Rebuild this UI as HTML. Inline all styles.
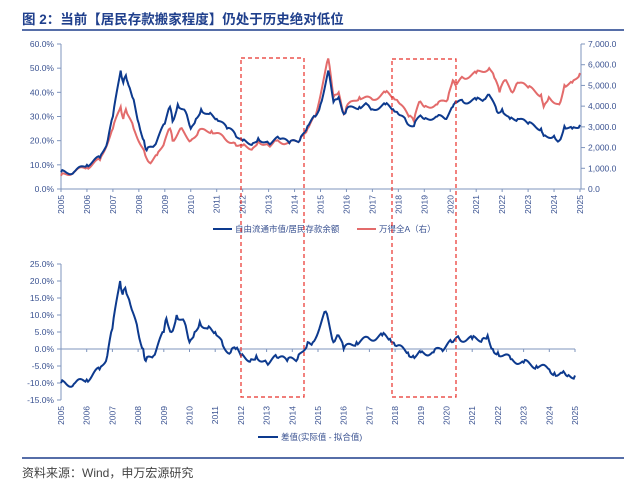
<!DOCTYPE html>
<html><head><meta charset="utf-8"><style>
body{margin:0;background:#fff;width:638px;height:485px;overflow:hidden}
svg{display:block;font-family:"Liberation Sans","Noto Sans CJK SC",sans-serif}
</style></head><body>
<svg id="s" width="638" height="485" xmlns="http://www.w3.org/2000/svg">
<text x="22" y="24" font-size="13.5" font-weight="bold" fill="#1f3f8c">图 2：当前【居民存款搬家程度】仍处于历史绝对低位</text>
<line x1="22" y1="30" x2="624" y2="30" stroke="#1f3f8c" stroke-width="1.5"/>
<line x1="22" y1="458" x2="624" y2="458" stroke="#1f3f8c" stroke-width="1.5"/>
<text x="22" y="477" font-size="12" fill="#444">资料来源：Wind，申万宏源研究</text>
<g id="g"></g>
</svg>
<script>
const g=document.getElementById('g');let h='';
const ax='#7f95bd',tc='#3a5291';
const X1=y=>61+(y-2005)*25.95, Y1=v=>189-v*145/60;
h+=`<line x1="61" y1="44" x2="61" y2="189" stroke="${ax}"/><line x1="581" y1="44" x2="581" y2="189" stroke="${ax}"/><line x1="61" y1="189" x2="581" y2="189" stroke="${ax}"/>`;
for(let i=0;i<=6;i++){let y=Y1(i*10);h+=`<line x1="57" y1="${y}" x2="61" y2="${y}" stroke="${ax}"/><text x="54" y="${y+3}" font-size="8.5" fill="${tc}" text-anchor="end">${i*10}.0%</text>`}
for(let i=0;i<=7;i++){let y=189-i*145/7;h+=`<line x1="581" y1="${y}" x2="585" y2="${y}" stroke="${ax}"/><text x="588" y="${y+3}" font-size="8.5" fill="${tc}">${i?i+',000.0':'0.0'}</text>`}
for(let i=0;i<=20;i++){let x=X1(2005+i);h+=`<line x1="${x}" y1="189" x2="${x}" y2="192" stroke="${ax}"/><text transform="translate(${x+3},195) rotate(-90)" font-size="8.5" fill="${tc}" text-anchor="end">${2005+i}</text>`}
const blue=[[2005,7],[2005.5,7],[2006,10],[2006.5,13],[2006.8,20],[2007,30],[2007.3,49],[2007.4,44],[2007.5,47],[2007.6,43],[2007.8,37],[2008,27],[2008.2,20],[2008.3,16],[2008.6,18],[2009,27],[2009.2,34],[2009.3,28],[2009.5,35],[2009.8,32],[2010,25],[2010.2,29],[2010.4,33],[2010.7,31],[2011,29],[2011.4,25],[2011.7,23],[2012,20],[2012.4,19],[2012.6,21],[2013,19],[2013.4,21],[2013.8,19],[2014.2,20],[2014.5,26],[2014.8,30],[2015.0,35],[2015.3,49],[2015.5,36],[2015.7,38],[2015.9,31],[2016,33],[2016.5,34],[2016.8,35],[2017,33],[2017.5,35],[2017.8,33],[2018,31],[2018.3,28],[2018.6,26],[2018.8,30],[2019,29],[2019.5,30],[2019.8,29],[2020.1,34],[2020.2,36],[2020.5,36],[2021,37],[2021.3,37],[2021.5,39],[2021.8,32],[2022,33],[2022.3,29],[2022.6,29],[2023,27],[2023.5,25],[2023.6,22],[2024,22],[2024.2,20],[2024.4,26],[2024.7,25],[2025,26.5]];
const red=[[2005,5.5],[2006,9],[2006.5,12],[2007,25],[2007.3,34],[2007.4,29],[2007.5,33],[2007.8,25],[2008.2,16],[2008.4,11],[2008.7,14],[2009,20],[2009.2,25],[2009.3,20],[2009.6,25],[2010,20],[2010.3,24],[2010.8,24],[2011.3,21],[2011.7,19],[2012,18],[2012.4,17],[2012.6,20],[2013,18],[2013.3,20],[2013.8,19],[2014.2,20],[2014.5,25],[2014.8,30],[2015.3,54],[2015.5,38],[2015.7,40],[2015.9,31],[2016,34],[2016.5,38],[2017,37],[2017.5,40],[2017.8,38],[2018,36],[2018.4,30],[2018.6,28],[2018.8,36],[2019,34],[2019.5,35],[2019.9,37],[2020.1,45],[2020.2,43],[2020.5,46],[2021,48],[2021.5,50],[2021.7,46],[2021.9,40],[2022.1,45],[2022.4,40],[2022.6,44],[2023,42],[2023.5,39],[2023.6,34],[2023.8,38],[2024.2,35],[2024.4,43],[2024.7,44],[2025,48]];
const pts=(d,X,Y)=>{let s='';for(let i=0;i<d.length;i++){let [a,b]=d[i];if(i>0){let [a0,b0]=d[i-1];const n=Math.max(3,Math.round((a-a0)*20));for(let k=1;k<n;k++){let t=k/n,j=Math.sin(a0*97+k*13)*0.9;s+=X(a0+(a-a0)*t)+','+Y(b0+(b-b0)*t+j)+' '}}s+=X(a)+','+Y(b)+' '}return s};
h+=`<polyline points="${pts(red,X1,Y1)}" fill="none" stroke="#e36b6b" stroke-width="2"/>`;
h+=`<polyline points="${pts(blue,X1,Y1)}" fill="none" stroke="#0d3a8e" stroke-width="2"/>`;
h+=`<line x1="213" y1="229" x2="232" y2="229" stroke="#0d3a8e" stroke-width="2"/><text x="235" y="232" font-size="8.5" fill="${tc}">自由流通市值/居民存款余额</text>`;
h+=`<line x1="357" y1="229" x2="376" y2="229" stroke="#e36b6b" stroke-width="2"/><text x="379" y="232" font-size="8.5" fill="${tc}">万得全A（右）</text>`;
const X2=y=>61+(y-2005)*25.7, Y2=v=>349-v*3.4;
h+=`<line x1="61" y1="264" x2="61" y2="400" stroke="${ax}"/><line x1="61" y1="349" x2="575" y2="349" stroke="${ax}"/>`;
for(let i=-3;i<=5;i++){let y=Y2(i*5);h+=`<line x1="57" y1="${y}" x2="61" y2="${y}" stroke="${ax}"/><text x="54" y="${y+3}" font-size="8.5" fill="${tc}" text-anchor="end">${(i*5).toFixed(1)}%</text>`}
for(let i=0;i<=20;i++){let x=X2(2005+i);h+=`<line x1="${x}" y1="349" x2="${x}" y2="352" stroke="${ax}"/><text transform="translate(${x+3},406) rotate(-90)" font-size="8.5" fill="${tc}" text-anchor="end">${2005+i}</text>`}
const diff=[[2005,-10],[2005.5,-10.3],[2006,-9],[2006.5,-6],[2006.8,-2],[2007,6],[2007.3,20],[2007.4,16],[2007.5,18],[2007.7,13],[2008,5],[2008.2,0],[2008.3,-3.5],[2008.6,-2],[2009,5],[2009.1,9],[2009.3,5],[2009.5,10],[2009.8,8],[2010,2],[2010.2,5],[2010.4,8],[2010.7,6],[2011,5],[2011.3,1],[2011.6,-1],[2011.8,0],[2012,-2],[2012.4,-3],[2012.6,-2],[2013,-4],[2013.4,-2.5],[2013.8,-3.5],[2014.2,-3],[2014.6,2],[2014.8,2],[2015.3,11],[2015.6,2],[2015.8,4],[2016,0],[2016.5,2],[2017,3],[2017.5,4],[2017.8,3],[2018,1],[2018.5,-1],[2018.7,-2],[2019,-1],[2019.5,-1],[2019.8,0],[2020.2,2],[2020.5,3],[2021,3],[2021.4,3],[2021.6,4],[2021.8,0],[2022,-1],[2022.5,-3],[2023,-4],[2023.5,-5],[2024,-6],[2024.2,-7],[2024.5,-7],[2024.7,-8],[2025,-7.8]];
h+=`<polyline points="${pts(diff,X2,Y2)}" fill="none" stroke="#0d3a8e" stroke-width="2"/>`;
h+=`<line x1="258" y1="437" x2="278" y2="437" stroke="#0d3a8e" stroke-width="2"/><text x="281" y="440" font-size="8.5" fill="${tc}">差值(实际值 - 拟合值)</text>`;
h+=`<rect x="241" y="58" width="63" height="339" fill="none" stroke="#e8302a" stroke-width="1.2" stroke-dasharray="4,3"/>`;
h+=`<rect x="392" y="59" width="64" height="338" fill="none" stroke="#e8302a" stroke-width="1.2" stroke-dasharray="4,3"/>`;
g.innerHTML=h;
</script>
</body></html>
